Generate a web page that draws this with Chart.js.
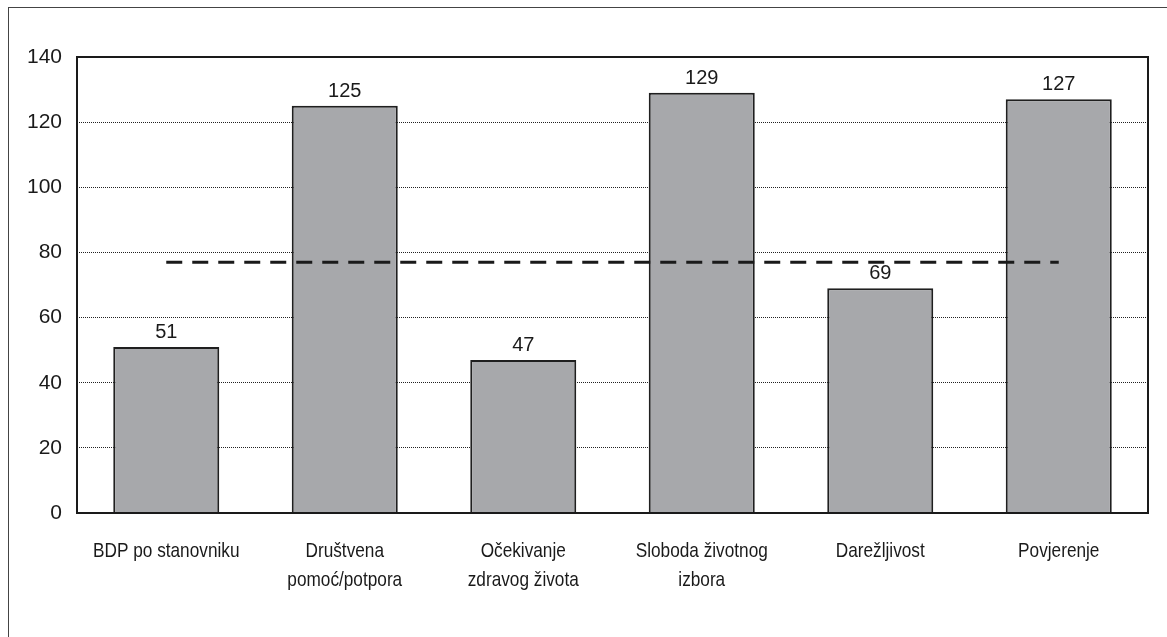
<!DOCTYPE html>
<html>
<head>
<meta charset="utf-8">
<script src="https://cdn.jsdelivr.net/npm/chart.js@4/dist/chart.umd.min.js"></script>
<style>
    html, body { margin: 0; padding: 0; background: #fff; overflow: hidden; }
    #wrap { position: relative; width: 1167px; height: 637px; }
    #frame { position: absolute; left: 8px; top: 7px; width: 1300px; height: 800px; border: 1.5px solid #444; box-sizing: border-box; }
    canvas { position: absolute; left: 0; top: 0; }
</style>
</head>
<body>
<div id="wrap">
    <div id="frame"></div>
    <canvas id="chart" width="1167" height="637"></canvas>
</div>
<script>
const categories = [
    "BDP po stanovniku",
    ["Društvena", "pomoć/potpora"],
    ["Očekivanje", "zdravog života"],
    ["Sloboda životnog", "izbora"],
    "Darežljivost",
    "Povjerenje"
];
const values = [51, 125, 47, 129, 69, 127];
const averageLine = [77, 77, 77, 77, 77, 77];
const yTicks = [0, 20, 40, 60, 80, 100, 120, 140];

const fontFamily = "'Liberation Sans', Arial, sans-serif";
const narrow = 0.82; // squeeze for the condensed category font

// solid frame round the plot area
const plotBorder = {
    id: "plotBorder",
    afterDatasetsDraw(chart) {
        const { ctx, chartArea: a } = chart;
        ctx.save();
        ctx.strokeStyle = "#1a1a1a";
        ctx.lineWidth = 2;
        ctx.strokeRect(a.left, a.top, a.right - a.left, a.bottom - a.top);
        ctx.restore();
    }
};

// value labels above bars
const barLabels = {
    id: "barLabels",
    afterDatasetsDraw(chart) {
        const { ctx } = chart;
        const meta = chart.getDatasetMeta(1);
        ctx.save();
        ctx.fillStyle = "#1a1a1a";
        ctx.font = "20px " + fontFamily;
        ctx.textAlign = "center";
        ctx.textBaseline = "alphabetic";
        meta.data.forEach((bar, i) => {
            ctx.fillText(values[i], bar.x, bar.y - 9);
        });
        ctx.restore();
    }
};

// category labels in a narrow face
const narrowLabels = {
    id: "narrowLabels",
    afterDraw(chart) {
        const { ctx, chartArea: a } = chart;
        const xs = chart.scales.x;
        ctx.save();
        ctx.fillStyle = "#1a1a1a";
        ctx.font = "21px " + fontFamily;
        ctx.textAlign = "center";
        ctx.textBaseline = "alphabetic";
        categories.forEach((label, i) => {
            const lines = Array.isArray(label) ? label : [label];
            const x = xs.getPixelForTick(i);
            lines.forEach((line, j) => {
                ctx.save();
                ctx.translate(x, a.bottom + 43.5 + j * 29);
                ctx.scale(narrow, 1);
                ctx.fillText(line, 0, 0);
                ctx.restore();
            });
        });
        ctx.restore();
    }
};

new Chart(document.getElementById("chart"), {
    data: {
        labels: categories,
        datasets: [
            {
                type: "line",
                data: averageLine,
                borderColor: "#1a1a1a",
                borderWidth: 3,
                borderDash: [16, 10],
                pointRadius: 0,
                fill: false,
                order: 0
            },
            {
                type: "bar",
                data: values,
                backgroundColor: "#a7a8ab",
                borderColor: "#1f1f1f",
                borderWidth: 2,
                categoryPercentage: 1,
                barPercentage: 0.594,
                order: 1
            }
        ]
    },
    options: {
        responsive: false,
        animation: false,
        events: [],
        layout: { padding: { left: 0, right: 19, top: 57, bottom: 0 } },
        plugins: { legend: { display: false }, tooltip: { enabled: false } },
        scales: {
            x: {
                grid: { display: false, drawTicks: false },
                border: { display: false },
                ticks: { display: false, autoSkip: false, maxRotation: 0 },
                afterFit: s => { s.height = 124; }
            },
            y: {
                min: 0,
                max: 140,
                afterBuildTicks: s => { s.ticks = yTicks.map(v => ({ value: v })); },
                grid: {
                    color: "#222",
                    lineWidth: 1,
                    drawTicks: false
                },
                border: { display: false, dash: [1, 1] },
                ticks: {
                    color: "#1a1a1a",
                    padding: 15,
                    font: { family: fontFamily, size: 21 }
                },
                afterFit: s => { s.width = 77; }
            }
        }
    },
    plugins: [plotBorder, barLabels, narrowLabels]
});
</script>
</body>
</html>
